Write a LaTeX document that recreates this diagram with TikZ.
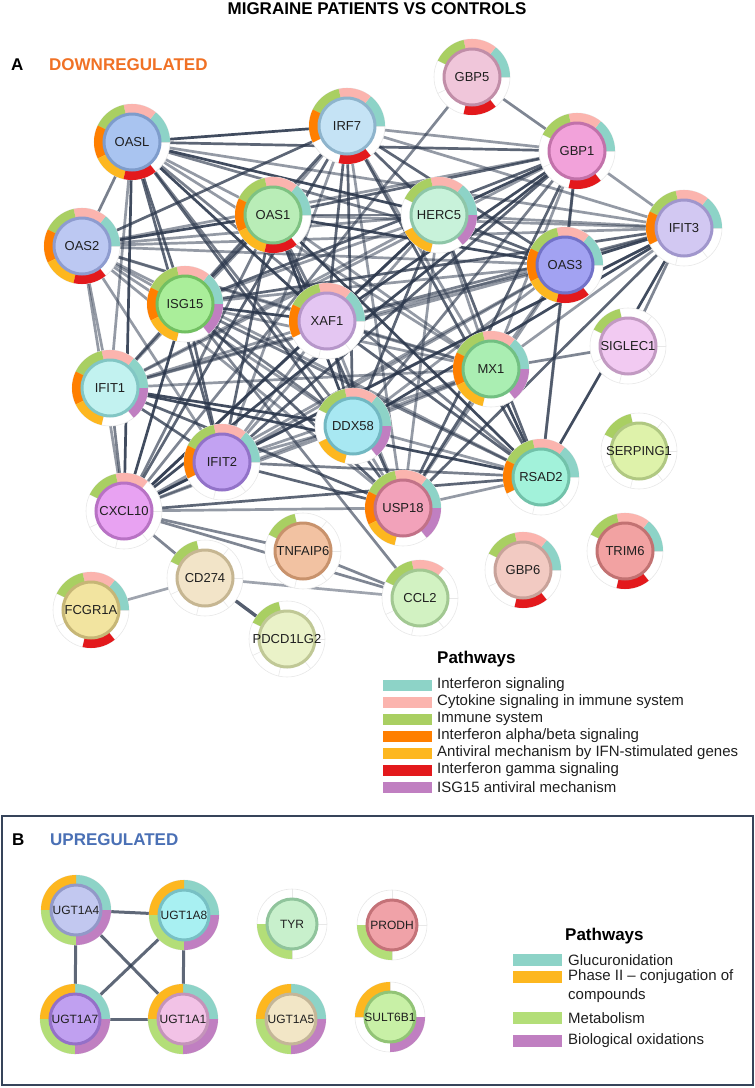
\documentclass[tikz,border=0pt]{standalone}
\usepackage{fontspec}
\setmainfont{Liberation Sans}
\usetikzlibrary{
  backgrounds  % 连线放到背景层
}

% 通路颜色（A：下调，B：上调）
\definecolor{pa1}{HTML}{8DD3C7}
\definecolor{pa2}{HTML}{FBB4AE}
\definecolor{pa3}{HTML}{A9CF62}
\definecolor{pa4}{HTML}{FF7F00}
\definecolor{pa5}{HTML}{FDB71F}
\definecolor{pa6}{HTML}{E3191C}
\definecolor{pa7}{HTML}{C07FC1}
\definecolor{pb1}{HTML}{8DD3C7}
\definecolor{pb2}{HTML}{FDB71F}
\definecolor{pb3}{HTML}{B3DE78}
\definecolor{pb4}{HTML}{C07FC1}
\definecolor{edgecol}{HTML}{2A364B}
\definecolor{downcol}{HTML}{F07125}
\definecolor{upcol}{HTML}{4A70B5}
\definecolor{boxcol}{HTML}{36445A}

% 环的内外半径与配色前缀
\newcommand{\ringin}{27.5}
\newcommand{\ringout}{38}
\newcommand{\ringpal}{pa}

% 基因节点：名称, x, y, 填充色, 边框色, 分段数, 着色分段
\newcommand{\gene}[7]{%
  \definecolor{genefill}{HTML}{#4}%
  \definecolor{geneline}{HTML}{#5}%
  \fill[white] (#2,-#3) circle[radius=\ringout];
  \foreach \k in {1,...,#6}{
    \draw[ringline, shift={(#2,-#3)}]
      ({(\k-1)*360/#6}:\ringin) -- ({(\k-1)*360/#6}:\ringout);
  }
  \draw[ringline] (#2,-#3) circle[radius=\ringout];
  \foreach \k in {#7}{
    \fill[fill=\ringpal\k, shift={(#2,-#3)}]
      ({(\k-1)*360/#6}:\ringout)
      arc[start angle={(\k-1)*360/#6}, end angle={\k*360/#6}, radius=\ringout]
      -- ({\k*360/#6}:\ringin)
      arc[start angle={\k*360/#6}, end angle={(\k-1)*360/#6}, radius=\ringin]
      -- cycle;
  }
  \node[gene, fill=genefill, draw=geneline, label={[genelabel]center:#1}] (#1) at (#2,-#3) {};
}

\tikzset{
  gene/.style={circle, minimum size=56, inner sep=0, line width=3},
  genelabel/.style={inner sep=0, font=\fontsize{13}{15}\selectfont, text=black!88},
  ringline/.style={draw=black!9, line width=0.6},
  link/.style={draw=edgecol, line width=2.7},
  legtext/.style={anchor=west, inner sep=0, font=\fontsize{15}{17}\selectfont, text=black!88},
  legtitle/.style={anchor=west, inner sep=0, font=\bfseries\fontsize{17}{19}\selectfont},
}

\begin{document}
\begin{tikzpicture}[x=1pt, y=1pt]
  \useasboundingbox (0,0) rectangle (755,-1088);

  % 标题
  \node[font=\bfseries\fontsize{17}{19}\selectfont] (title) at (377,-9) {MIGRAINE PATIENTS VS CONTROLS};
  \node[legtitle] (tagA) at (11,-65) {A};
  \node[legtitle, text=downcol] (downA) at (49,-65) {DOWNREGULATED};

  % A：下调基因
  \gene{OASL}{132}{142}{A9C4F0}{7E9CCB}{7}{1,2,3,4,5,6}
  \gene{IRF7}{347}{126}{C5E3F5}{8EB4CC}{7}{1,2,3,4,6}
  \gene{OAS1}{273}{215}{B9EDB7}{7EC282}{7}{1,2,3,4,5,6}
  \gene{OAS2}{82}{246}{BCC8F2}{8E9CCF}{7}{1,2,3,4,5,6}
  \gene{GBP5}{472}{77}{F0C6DA}{C18EA8}{7}{1,2,3,6}
  \gene{GBP1}{577}{151}{F2A2DA}{C272AA}{7}{1,2,3,6}
  \gene{HERC5}{439}{215}{C8F2DA}{8EC6A8}{7}{1,2,3,5,7}
  \gene{IFIT3}{684}{228}{D2C8F2}{A096CC}{7}{1,2,3,4}
  \gene{OAS3}{565}{265}{A2A2F2}{7272C8}{7}{1,2,3,4,5,6}
  \gene{ISG15}{185}{304}{AAEE9A}{72C062}{7}{1,2,3,4,5,7}
  \gene{XAF1}{327}{321}{E4C6F2}{B696CA}{7}{1,2,3,4}
  \gene{IFIT1}{110}{388}{C2F2F0}{82C6C4}{7}{1,2,3,4,5,7}
  \gene{DDX58}{353}{426}{A8E8F2}{72B8C2}{7}{1,2,3,5,7}
  \gene{IFIT2}{222}{462}{C2A2F2}{9272C8}{7}{1,2,3,4}
  \gene{CXCL10}{124}{511}{E8A2F2}{B872C4}{7}{2,3}
  \gene{TNFAIP6}{303}{551}{F2C2A2}{C8926C}{7}{3}
  \gene{CD274}{205}{578}{F2E4C8}{C6B692}{7}{3}
  \gene{FCGR1A}{91}{610}{F2E4A0}{C6B676}{7}{1,2,3,6}
  \gene{PDCD1LG2}{287}{639}{EAF2C8}{C0C896}{7}{3}
  \gene{CCL2}{420}{598}{D2F2C2}{A2C892}{7}{2,3}
  \gene{MX1}{491}{369}{AAEEB2}{72C082}{7}{1,2,3,4,5,7}
  \gene{SIGLEC1}{628}{346}{F2CAF2}{C29AC2}{7}{3}
  \gene{SERPING1}{639}{451}{DEF2AA}{B0C882}{7}{3}
  \gene{RSAD2}{541}{477}{A2F2DA}{72C2AA}{7}{1,2,3,4}
  \gene{USP18}{403}{508}{F2A2BA}{C27288}{7}{1,2,3,4,5,7}
  \gene{TRIM6}{625}{551}{F2A2A2}{C27272}{7}{1,2,3,6}
  \gene{GBP6}{523}{570}{F2CAC2}{C8A29A}{7}{1,2,3,6}

  % A：相互作用连线
  \begin{scope}[on background layer]
    \foreach \a [count=\i] in {OASL,IRF7,OAS1,OAS2,GBP1,HERC5,IFIT3,OAS3,ISG15,XAF1,IFIT1,DDX58,IFIT2,CXCL10,MX1,RSAD2,USP18}{
      \foreach \b [count=\j] in {OASL,IRF7,OAS1,OAS2,GBP1,HERC5,IFIT3,OAS3,ISG15,XAF1,IFIT1,DDX58,IFIT2,CXCL10,MX1,RSAD2,USP18}{
        \ifnum\j>\i
          \pgfmathsetmacro\op{0.5+0.13*mod(\i*\j+\i,4)}
          \draw[link, opacity=\op] (\a) -- (\b);
        \fi
      }
    }
    \foreach \a/\b in {GBP5/GBP1, GBP5/CXCL10, SIGLEC1/MX1, SIGLEC1/IFIT3,
                       CXCL10/TNFAIP6, CXCL10/CD274, CXCL10/CCL2, TNFAIP6/CCL2,
                       ISG15/CCL2}
      \draw[link, opacity=0.6] (\a) -- (\b);
    \draw[link, opacity=0.45] (CD274) -- (FCGR1A);
    \draw[link, opacity=0.45] (CD274) -- (CCL2);
    \draw[link, opacity=0.8, line width=3.4] (CD274) -- (PDCD1LG2);
  \end{scope}

  % A：图例
  \node[legtitle] (legA) at (437,-659) {Pathways};
  \fill[pa1] (383,-679.5) rectangle (432,-690.5);
  \node[legtext] (la1) at (437,-685) {Interferon signaling};
  \fill[pa2] (383,-696.5) rectangle (432,-707.5);
  \node[legtext] (la2) at (437,-702) {Cytokine signaling in immune system};
  \fill[pa3] (383,-713.5) rectangle (432,-724.5);
  \node[legtext] (la3) at (437,-719) {Immune system};
  \fill[pa4] (383,-730.5) rectangle (432,-741.5);
  \node[legtext] (la4) at (437,-736) {Interferon alpha/beta signaling};
  \fill[pa5] (383,-747.5) rectangle (432,-758.5);
  \node[legtext] (la5) at (437,-753) {Antiviral mechanism by IFN-stimulated genes};
  \fill[pa6] (383,-764.5) rectangle (432,-775.5);
  \node[legtext] (la6) at (437,-770) {Interferon gamma signaling};
  \fill[pa7] (383,-781.5) rectangle (432,-792.5);
  \node[legtext] (la7) at (437,-787) {ISG15 antiviral mechanism};

  % B：上调基因框
  \draw[boxcol, line width=2] (2,-816) rectangle (753,-1085);
  \node[legtitle] (tagB) at (12,-840) {B};
  \node[legtitle, text=upcol] (upB) at (50,-840) {UPREGULATED};

  \begin{scope}[gene/.append style={minimum size=50},
                genelabel/.append style={font=\fontsize{12}{14}\selectfont}]
    \renewcommand{\ringin}{24}
    \renewcommand{\ringout}{35}
    \renewcommand{\ringpal}{pb}
    \gene{UGT1A4}{76}{910}{C2C8F0}{9299C8}{4}{1,2,3,4}
    \gene{UGT1A8}{184}{915}{A8F0F2}{78C0C4}{4}{1,2,3,4}
    \gene{UGT1A7}{75}{1019}{C0A0F0}{9470C8}{4}{1,2,3,4}
    \gene{UGT1A1}{183}{1019}{F2C2E6}{C494BA}{4}{1,2,3,4}
    \gene{TYR}{292}{924}{C8F0CC}{90C49C}{4}{3}
    \gene{UGT1A5}{291}{1019}{F2E6C6}{C4B698}{4}{1,2,3,4}
    \gene{PRODH}{392}{925}{F0A2A8}{C47278}{4}{3}
    \gene{SULT6B1}{390}{1017}{C8F0A6}{92C476}{4}{2,4}
  \end{scope}

  \begin{scope}[on background layer]
    \foreach \a/\b in {UGT1A4/UGT1A8, UGT1A4/UGT1A7, UGT1A4/UGT1A1,
                       UGT1A8/UGT1A7, UGT1A8/UGT1A1, UGT1A7/UGT1A1}
      \draw[link, opacity=0.75, line width=3] (\a) -- (\b);
  \end{scope}

  % B：图例
  \node[legtitle] (legB) at (565,-936) {Pathways};
  \fill[pb1] (513,-954) rectangle (562,-966);
  \node[legtext] (lb1) at (568,-960) {Glucuronidation};
  \fill[pb2] (513,-971) rectangle (562,-983);
  \node[legtext] (lb2) at (568,-977) {Phase II -- conjugation of};
  \node[legtext] (lb2b) at (568,-996) {compounds};
  \fill[pb3] (513,-1012) rectangle (562,-1024);
  \node[legtext] (lb3) at (568,-1018) {Metabolism};
  \fill[pb4] (513,-1035) rectangle (562,-1047);
  \node[legtext] (lb4) at (568,-1041) {Biological oxidations};
\end{tikzpicture}
\end{document}
